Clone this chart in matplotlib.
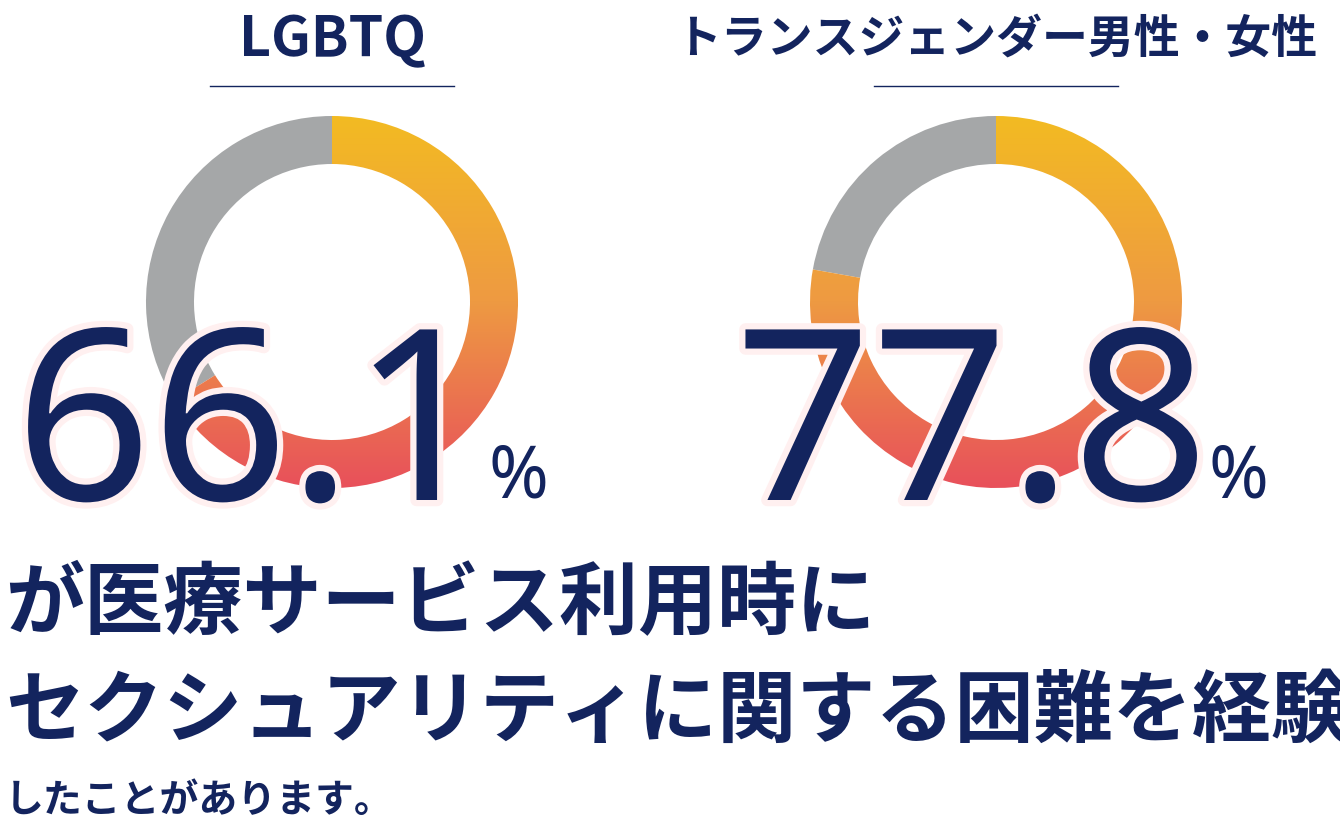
import numpy as np
import matplotlib
matplotlib.use('Agg')
import matplotlib.pyplot as plt
from matplotlib.patches import Wedge
from matplotlib.colors import LinearSegmentedColormap
import matplotlib.patheffects as pe

titles = ['LGBTQ', 'トランスジェンダー男性・女性']
values = [66.1, 77.8]
value_labels = ['66.1', '77.8']
headline = ['が医療サービス利用時に', 'セクシュアリティに関する困難を経験']
footnote = 'したことがあります。'

NAVY = '#13245e'
GRAY = '#a5a7a8'
JP = 'Noto Sans CJK JP'
grad = LinearSegmentedColormap.from_list('g', ['#f3bb22', '#ee9a42', '#e8505b'])

W, H = 1340, 830
fig = plt.figure(figsize=(13.4, 8.3), dpi=100)
ax = fig.add_axes([0, 0, 1, 1])
ax.set_xlim(0, W)
ax.set_ylim(H, 0)
ax.axis('off')

centers = [(332, 302), (996, 302)]
num_x = [252, 972]
title_size = [40, 33]
r_out, width = 186, 48
gimg = np.linspace(0, 1, 256).reshape(-1, 1)

for (cx, cy), nx, ts, title, val, lab in zip(centers, num_x, title_size, titles, values, value_labels):
    # y axis is flipped: -90 is the top, increasing angle runs clockwise
    stop = -90 + 360 * val / 100
    ax.add_patch(Wedge((cx, cy), r_out, stop, 270, width=width, facecolor=GRAY))
    w = Wedge((cx, cy), r_out, -90, stop, width=width, facecolor='none', edgecolor='none')
    ax.add_patch(w)
    im = ax.imshow(gimg, cmap=grad, extent=(cx - r_out, cx + r_out, cy + r_out, cy - r_out),
                   aspect='auto', zorder=1)
    im.set_clip_path(w)
    ax.text(cx, 40, title, ha='center', va='center', fontsize=ts, fontweight='heavy',
            color=NAVY, family=JP)
    ax.plot([cx - 122, cx + 122], [86, 86], color=NAVY, lw=1)
    ax.text(nx, 500, lab, ha='center', va='baseline', fontsize=172, color=NAVY,
            family='Noto Sans', fontweight='medium', zorder=5,
            path_effects=[pe.withStroke(linewidth=9, foreground='#fff0f0')])
    ax.text(nx + 236, 497, '%', ha='left', va='baseline', fontsize=52, color=NAVY,
            family='Noto Sans', zorder=5)

ax.text(5, 605, headline[0], ha='left', va='center', fontsize=57, fontweight='heavy',
        color=NAVY, family=JP)
ax.text(5, 712, headline[1], ha='left', va='center', fontsize=57, fontweight='heavy',
        color=NAVY, family=JP)
ax.text(5, 800, footnote, ha='left', va='center', fontsize=28, fontweight='bold',
        color=NAVY, family=JP)

fig.savefig('out.png', dpi=100)
